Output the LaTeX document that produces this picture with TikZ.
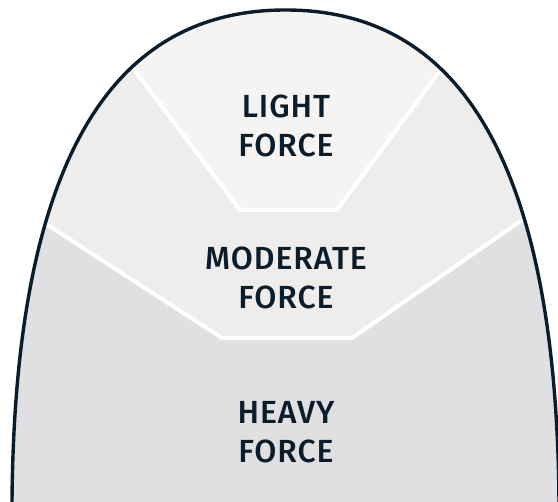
\documentclass[tikz,border=0pt]{standalone}
\usepackage{fontspec}
\newfontfamily\labfont[LetterSpace=3]{Fira Sans Medium}
\definecolor{navy}{HTML}{0B1C2A}
\definecolor{heavyc}{HTML}{E0E0E2}
\definecolor{moderatec}{HTML}{EEEDEC}
\definecolor{lightc}{HTML}{F5F4F3}
\tikzset{
  divider/.style={draw=white, line width=4pt, line join=miter},
  outline/.style={draw=navy, line width=3.4pt},
  zonelabel/.style={text=navy, align=center, font=\labfont\fontsize{32}{39}\selectfont, inner sep=0pt}
}
\begin{document}
\begin{tikzpicture}[x=1pt, y=-1pt]
  \useasboundingbox (0,0) rectangle (558,502);
  \begin{scope}
    \clip (0,0) rectangle (558,502);
    \begin{scope}
      \clip (12,540) -- (12,502) .. controls (15,100) and (150,10) .. (285.5,10)
            .. controls (421,10) and (556,100) .. (559,502) -- (559,540) -- cycle;
      \fill[heavyc] (-10,-10) rectangle (570,560);
      \fill[moderatec] (-50,161.7) -- (222,338) -- (352,338) -- (620,152.1) -- (620,-50) -- (-50,-50) -- cycle;
      \fill[lightc] (44,-50) -- (240,210) -- (337,210) -- (529.3,-50) -- cycle;
      \draw[divider] (-50,161.7) -- (222,338) -- (352,338) -- (620,152.1);
      \draw[divider] (44,-50) -- (240,210) -- (337,210) -- (529.3,-50);
    \end{scope}
    \draw[outline] (12,540) -- (12,502) .. controls (15,100) and (150,10) .. (285.5,10)
            .. controls (421,10) and (556,100) .. (559,502) -- (559,540);
  \end{scope}
  \node[zonelabel] (light) at (286,125.5) {LIGHT\\FORCE};
  \node[zonelabel] (moderate) at (286,278) {MODERATE\\FORCE};
  \node[zonelabel] (heavy) at (286,432.5) {HEAVY\\FORCE};
\end{tikzpicture}
\end{document}
